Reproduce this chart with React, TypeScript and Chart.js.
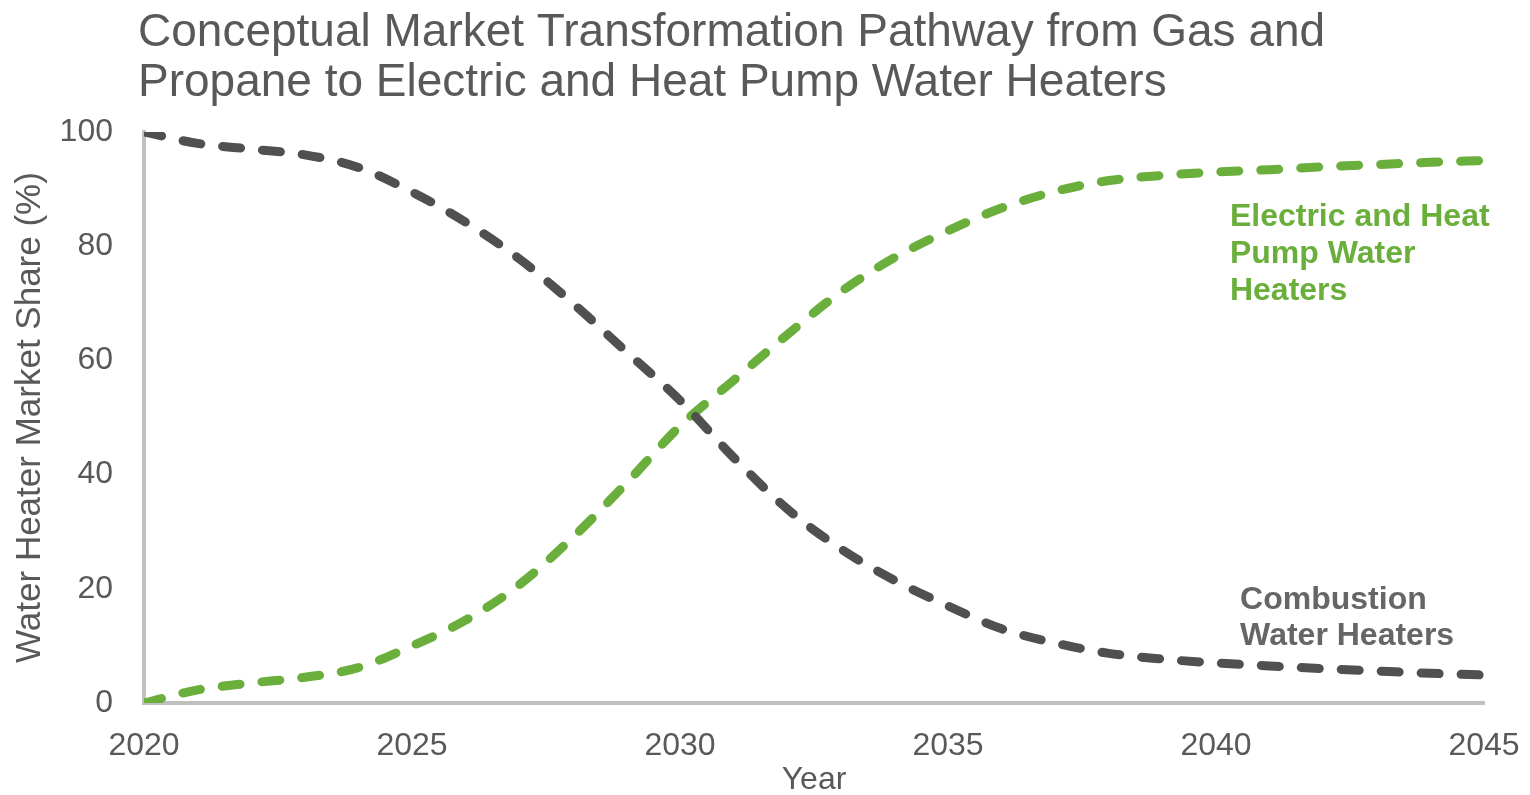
import React, { useEffect, useRef } from "react";
import { Chart, registerables } from "chart.js";

Chart.register(...registerables);

const years = [2020, 2021, 2022, 2023, 2024, 2025, 2026, 2027, 2028, 2029, 2030, 2031, 2032, 2033, 2034, 2035, 2036, 2037, 2038, 2039, 2040, 2041, 2042, 2043, 2044, 2045];
const combustion = [100, 98, 97, 96, 93.8, 89.5, 84.2, 77.8, 70, 61.5, 53, 43, 34, 27, 21.5, 17, 13, 10.5, 8.7, 7.7, 7, 6.5, 6, 5.6, 5.2, 4.9];
const electric = [0, 2.3, 3.5, 4.5, 6.2, 10, 14.5, 20.7, 29, 38.5, 48.5, 56.5, 64.5, 72, 78, 82.7, 86.7, 89.6, 91.5, 92.4, 93, 93.4, 93.9, 94.3, 94.7, 95];
const xTicks = [2020, 2025, 2030, 2035, 2040, 2045];
const yTicks = [0, 20, 40, 60, 80, 100];
const titleLines = [
  "Conceptual Market Transformation Pathway from Gas and",
  "Propane to Electric and Heat Pump Water Heaters",
];
const electricLabel = ["Electric and Heat", "Pump Water", "Heaters"];
const combustionLabel = ["Combustion", "Water Heaters"];

const FONT = "'Liberation Sans', Arial, sans-serif";
const GREEN = "#6aaf3c";
const DARK = "#505050";
const TEXT = "#595959";

const textPlugin = {
  id: "textPlugin",
  afterDraw(chart: any) {
    const ctx = chart.ctx;
    const xs = chart.scales.x;
    const ys = chart.scales.y;
    ctx.save();
    ctx.fillStyle = TEXT;
    ctx.font = `46px ${FONT}`;
    ctx.textBaseline = "alphabetic";
    ctx.textAlign = "left";
    ctx.fillText(titleLines[0], 138, 46);
    ctx.fillText(titleLines[1], 138, 96);

    ctx.font = `bold 32px ${FONT}`;
    ctx.textBaseline = "middle";
    ctx.fillStyle = GREEN;
    const ex = xs.getPixelForValue(2040.26);
    const ey = ys.getPixelForValue(85.1);
    electricLabel.forEach((t, i) => ctx.fillText(t, ex, ey + i * 37));

    ctx.fillStyle = "#666666";
    const cx = xs.getPixelForValue(2040.45);
    const cy = ys.getPixelForValue(18);
    combustionLabel.forEach((t, i) => ctx.fillText(t, cx, cy + i * 36));
    ctx.restore();
  },
};

export default function App() {
  const ref = useRef<HTMLCanvasElement | null>(null);

  useEffect(() => {
    document.body.style.margin = "0";
    const canvas = ref.current;
    if (!canvas) return;
    const chart = new Chart(canvas, {
      type: "line",
      data: {
        datasets: [
          {
            label: "Combustion Water Heaters",
            data: years.map((y, i) => ({ x: y, y: combustion[i] })),
            borderColor: DARK,
            borderWidth: 9,
            borderDash: [18, 22],
            borderCapStyle: "round",
            borderJoinStyle: "round",
            pointRadius: 0,
            cubicInterpolationMode: "monotone",
            fill: false,
          },
          {
            label: "Electric and Heat Pump Water Heaters",
            data: years.map((y, i) => ({ x: y, y: electric[i] })),
            borderColor: GREEN,
            borderWidth: 9,
            borderDash: [18, 22],
            borderCapStyle: "round",
            borderJoinStyle: "round",
            pointRadius: 0,
            cubicInterpolationMode: "monotone",
            fill: false,
          },
        ],
      },
      options: {
        animation: false,
        responsive: false,
        devicePixelRatio: 1,
        layout: { padding: { top: 132, right: 46, left: 0, bottom: 0 } },
        plugins: {
          legend: { display: false },
          title: { display: false },
          tooltip: { enabled: false },
        },
        scales: {
          x: {
            type: "linear",
            min: 2020,
            max: 2045,
            afterFit: (s: any) => {
              s.height = 92;
              s.paddingLeft = 0;
              s.paddingRight = 0;
            },
            afterBuildTicks: (s: any) => {
              s.ticks = xTicks.map((v) => ({ value: v }));
            },
            grid: { display: false, drawTicks: false },
            border: { display: true, color: "#c0c0c0", width: 4 },
            ticks: {
              padding: 24,
              color: TEXT,
              font: { family: FONT, size: 32 },
              maxRotation: 0,
              autoSkip: false,
              callback: (v: any) => String(v),
            },
            title: {
              display: true,
              text: "Year",
              color: TEXT,
              font: { family: FONT, size: 32 },
              padding: { top: 0, bottom: -4 },
            },
          },
          y: {
            type: "linear",
            min: 0,
            max: 100,
            afterFit: (s: any) => {
              s.width = 144;
              s.paddingTop = 0;
              s.paddingBottom = 0;
            },
            afterBuildTicks: (s: any) => {
              s.ticks = yTicks.map((v) => ({ value: v }));
            },
            grid: { display: false, drawTicks: false },
            border: { display: true, color: "#c0c0c0", width: 4 },
            ticks: {
              padding: 31,
              color: TEXT,
              font: { family: FONT, size: 32 },
              callback: (v: any) => String(v),
            },
            title: {
              display: true,
              text: "Water Heater Market Share (%)",
              color: TEXT,
              font: { family: FONT, size: 35 },
              padding: { top: 9, bottom: 0 },
            },
          },
        },
      },
      plugins: [textPlugin],
    } as any);
    return () => chart.destroy();
  }, []);

  return (
    <div style={{ position: "fixed", left: 0, top: 0, width: 1530, height: 795, background: "#ffffff" }}>
      <canvas ref={ref} width={1530} height={795} style={{ width: 1530, height: 795, display: "block" }} />
    </div>
  );
}
